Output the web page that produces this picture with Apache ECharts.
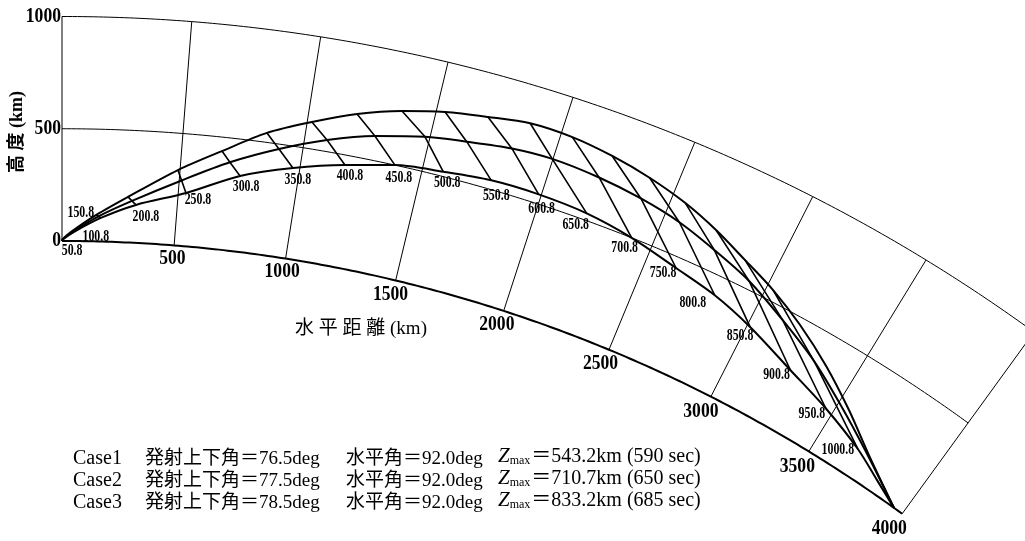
<!DOCTYPE html>
<html>
<head>
<meta charset="utf-8">
<script src="https://cdn.jsdelivr.net/npm/echarts/dist/echarts.min.js"></script>
<style>
  html, body { margin: 0; padding: 0; background: #fff; }
  #main { width: 1025px; height: 541px; }
</style>
</head>
<body>
<div id="main"></div>
<script>
// Earth radius (km) used for the curved ground / altitude frame
const EARTH_R = 6371;

// frame ticks
const distTicks = [0, 500, 1000, 1500, 2000, 2500, 3000, 3500, 4000];
const altTicks = [0, 500, 1000];

// flight-time marks (sec)
const timeLabels = ['50.8', '100.8', '150.8', '200.8', '250.8', '300.8', '350.8', '400.8', '450.8', '500.8',
  '550.8', '600.8', '650.8', '700.8', '750.8', '800.8', '850.8', '900.8', '950.8', '1000.8'];

// Case1 : horizontal distance (km) and altitude (km) at each time mark
const case1Dist = [5, 48, 170, 321, 533, 755, 971, 1183, 1386, 1586, 1786, 1989, 2201, 2410, 2628, 2822, 3014, 3252, 3466, 3677];
const case1Alt  = [8, 38, 105, 169, 237, 337, 404, 456, 500, 521, 540, 542, 531, 500, 452, 413, 356, 271, 203, 126];
// Case1 : descent after the last time mark
const case1TailDist = [3823];
const case1TailAlt  = [58];

// Case2
const case2Dist = [4, 45, 160, 303, 510, 706, 902, 1092, 1281, 1480, 1648, 1830, 1997, 2199, 2386, 2566, 2741, 2924, 3122, 3322];
const case2Alt  = [9, 40, 112, 186, 291, 392, 478, 551, 608, 653, 677, 702, 711, 700, 678, 645, 595, 537, 450, 357];
const case2TailDist = [3508, 3705];
const case2TailAlt  = [253, 140];

// Case3
const case3Dist = [4, 42, 150, 285, 491, 668, 844, 1019, 1193, 1367, 1535, 1704, 1871, 2046, 2219, 2388, 2558, 2714, 2871, 3029];
const case3Alt  = [9, 42, 118, 203, 336, 438, 542, 619, 689, 742, 781, 808, 833, 831, 810, 778, 734, 679, 613, 549];
const case3TailDist = [3195, 3375, 3554, 3731];
const case3TailAlt  = [468, 366, 251, 131];

// impact point of the three trajectories (km)
const impactDist = [3955, 3955, 3955];

const caseText = [
  { name: 'Case1', elev: '76.5', azim: '92.0', zmax: '543.2', t: '590' },
  { name: 'Case2', elev: '77.5', azim: '92.0', zmax: '710.7', t: '650' },
  { name: 'Case3', elev: '78.5', azim: '92.0', zmax: '833.2', t: '685' }
];

// (distance along ground, altitude) -> flat plane in km, centred on the launch point
function project(d, h) {
  const a = d / EARTH_R, r = EARTH_R + h;
  return [r * Math.sin(a), r * Math.cos(a) - EARTH_R];
}

const W = 1025, H = 541;
const SCALE = 0.2245;            // px per km, same on both axes
const ORIGIN = [62, 241];        // launch point on screen
const xMin = -ORIGIN[0] / SCALE, xMax = (W - ORIGIN[0]) / SCALE;
const yMax = ORIGIN[1] / SCALE, yMin = -(H - ORIGIN[1]) / SCALE;

// label nudges (px) for the time marks, relative to the Case1 point
const timeLabelNudge = [[9, 12], [23, 4], [-20, -5], [10, 12], [12, 7], [6, 11], [5, 12], [5, 11], [4, 13], [4, 11],
  [5, 16], [3, 15], [-11, 12], [-7, 10], [-13, 5], [-22, 8], [-10, 9], [-14, 5], [-14, 5], [-20, 1]];

const serif = '"Liberation Serif", "DejaVu Serif", serif';
const cjk = '"Liberation Serif", "Noto Sans CJK JP", serif';
const series = [];

// altitude arcs
altTicks.forEach(function (h) {
  const pts = [];
  for (let d = 0; d <= 4000; d += 20) pts.push(project(d, h));
  series.push({
    type: 'line', data: pts, symbol: 'none', silent: true,
    lineStyle: { color: '#000', width: h === 0 ? 2 : 1 }, z: 2
  });
});

// radial lines at each distance tick
distTicks.forEach(function (d) {
  series.push({
    type: 'line', data: [project(d, 0), project(d, 1000)], symbol: 'none', silent: true,
    lineStyle: { color: '#000', width: 1 }, z: 2
  });
});

// trajectories
const cases = [
  [case1Dist, case1Alt, case1TailDist, case1TailAlt],
  [case2Dist, case2Alt, case2TailDist, case2TailAlt],
  [case3Dist, case3Alt, case3TailDist, case3TailAlt]
];
cases.forEach(function (c, i) {
  const pts = [project(0, 0)];
  c[0].forEach(function (d, k) { pts.push(project(d, c[1][k])); });
  c[2].forEach(function (d, k) { pts.push(project(d, c[3][k])); });
  pts.push(project(impactDist[i], 0));
  series.push({
    type: 'line', data: pts, symbol: 'none', smooth: 0.3, silent: true,
    lineStyle: { color: '#000', width: 2 }, z: 4
  });
});

// equal-time lines joining the three trajectories
timeLabels.forEach(function (t, k) {
  series.push({
    type: 'line', symbol: 'none', silent: true,
    data: [project(case3Dist[k], case3Alt[k]), project(case2Dist[k], case2Alt[k]), project(case1Dist[k], case1Alt[k])],
    lineStyle: { color: '#000', width: 1.6 }, z: 3
  });
});

const chart = echarts.init(document.getElementById('main'));
chart.setOption({
  backgroundColor: '#fff',
  animation: false,
  grid: { left: 0, right: 0, top: 0, bottom: 0 },
  xAxis: { type: 'value', min: xMin, max: xMax, show: false },
  yAxis: { type: 'value', min: yMin, max: yMax, show: false },
  series: series
});

function toPx(d, h) { return chart.convertToPixel({ gridIndex: 0 }, project(d, h)); }

// condensed bold numerals
function numText(p, text, size, sx, align) {
  return {
    type: 'text', x: p[0], y: p[1], scaleX: sx, silent: true, z: 10,
    style: { text: text, font: 'bold ' + size + 'px ' + serif, fill: '#000', align: align || 'center', verticalAlign: 'middle' }
  };
}

const graphics = [];

// time labels beside the Case1 trajectory
timeLabels.forEach(function (t, k) {
  const p = toPx(case1Dist[k], case1Alt[k]);
  const n = timeLabelNudge[k];
  graphics.push(numText([p[0] + n[0], p[1] + n[1]], t, 16, 0.74));
});

// distance tick labels below the ground arc
distTicks.slice(1).forEach(function (d) {
  const a = d / EARTH_R;
  const p = toPx(d, 0);
  graphics.push(numText([p[0] - Math.sin(a) * 22, p[1] + 13 + Math.sin(a) * 4], String(d), 20, 0.88));
});

// altitude tick labels left of the vertical axis
altTicks.forEach(function (h) {
  const p = toPx(0, h);
  graphics.push(numText([p[0] - 1, p[1]], String(h), 20, 0.88, 'right'));
});

graphics.push({
  type: 'text', x: 17, y: 132, rotation: Math.PI / 2, silent: true,
  style: { text: '高 度 (km)', font: 'bold 18px ' + cjk, fill: '#000', align: 'center', verticalAlign: 'middle' }
});
graphics.push({
  type: 'text', x: 361, y: 329, silent: true,
  style: { text: '水 平 距 離 (km)', font: '19px ' + cjk, fill: '#000', align: 'center', verticalAlign: 'middle' }
});

caseText.forEach(function (c, i) {
  const y = 459 + i * 22;
  const base = { fill: '#000', verticalAlign: 'middle' };
  graphics.push({ type: 'text', x: 73, y: y, silent: true, style: Object.assign({ text: c.name, font: '20px ' + cjk }, base) });
  graphics.push({ type: 'text', x: 145, y: y, silent: true, style: Object.assign({ text: '発射上下角＝' + c.elev + 'deg', font: '19px ' + cjk }, base) });
  graphics.push({ type: 'text', x: 346, y: y, silent: true, style: Object.assign({ text: '水平角＝' + c.azim + 'deg', font: '19px ' + cjk }, base) });
  graphics.push({
    type: 'text', x: 498, y: y + 8, silent: true,
    style: {
      text: '{z|Z}{s|max}{n|＝' + c.zmax + 'km (' + c.t + ' sec)}', verticalAlign: 'bottom',
      rich: {
        z: { font: 'italic 21px ' + serif, fill: '#000', verticalAlign: 'bottom' },
        s: { font: '12px ' + serif, fill: '#000', verticalAlign: 'bottom', padding: [0, 1, 0, 0] },
        n: { font: '20px ' + cjk, fill: '#000', verticalAlign: 'bottom' }
      }
    }
  });
});

chart.setOption({ graphic: graphics });
</script>
</body>
</html>
